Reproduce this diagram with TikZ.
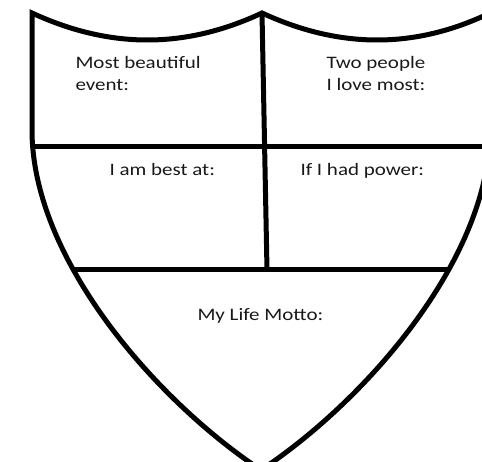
\documentclass[tikz,border=0pt]{standalone}
\usepackage{fontspec}
\setmainfont{Carlito}[FakeStretch=1.2]
\usetikzlibrary{calc}

\begin{document}
\begin{tikzpicture}[x=1pt, y=-1pt, line width=5pt, every node/.style={font=\fontsize{17.5}{22}\selectfont, inner sep=0pt, align=left, text=black!90}]
  \useasboundingbox (0,0) rectangle (482,462);
  \clip (0,0) rectangle (482,462);
  \path[save path=\shieldoutline] (32,13) .. controls (110,49) and (185,49) .. (262,13)
    .. controls (340,49) and (415,49) .. (490,13) -- (490,130)
    .. controls (490,260) and (364,402) .. (261,470)
    .. controls (158,402) and (32,260) .. (32,130) -- cycle;
  \coordinate (peak) at (262,13);
  \coordinate (joint) at (267,270);
  \begin{scope}
    \clip[use path=\shieldoutline];
    \draw (0,147) -- (500,147);
    \draw (0,270) -- (500,270);
    \draw (peak) -- (joint);
  \end{scope}
  \draw[use path=\shieldoutline];
  \node[anchor=base west] (event) at (73,91) {Most beautiful\\event:};
  \node[anchor=base west] (people) at (324,91) {Two people\\I love most:};
  \node[anchor=base west] (best) at (107,176) {I am best at:};
  \node[anchor=base west] (power) at (298,176) {If I had power:};
  \node[anchor=base west] (motto) at (195,321) {My Life Motto:};
\end{tikzpicture}
\end{document}
